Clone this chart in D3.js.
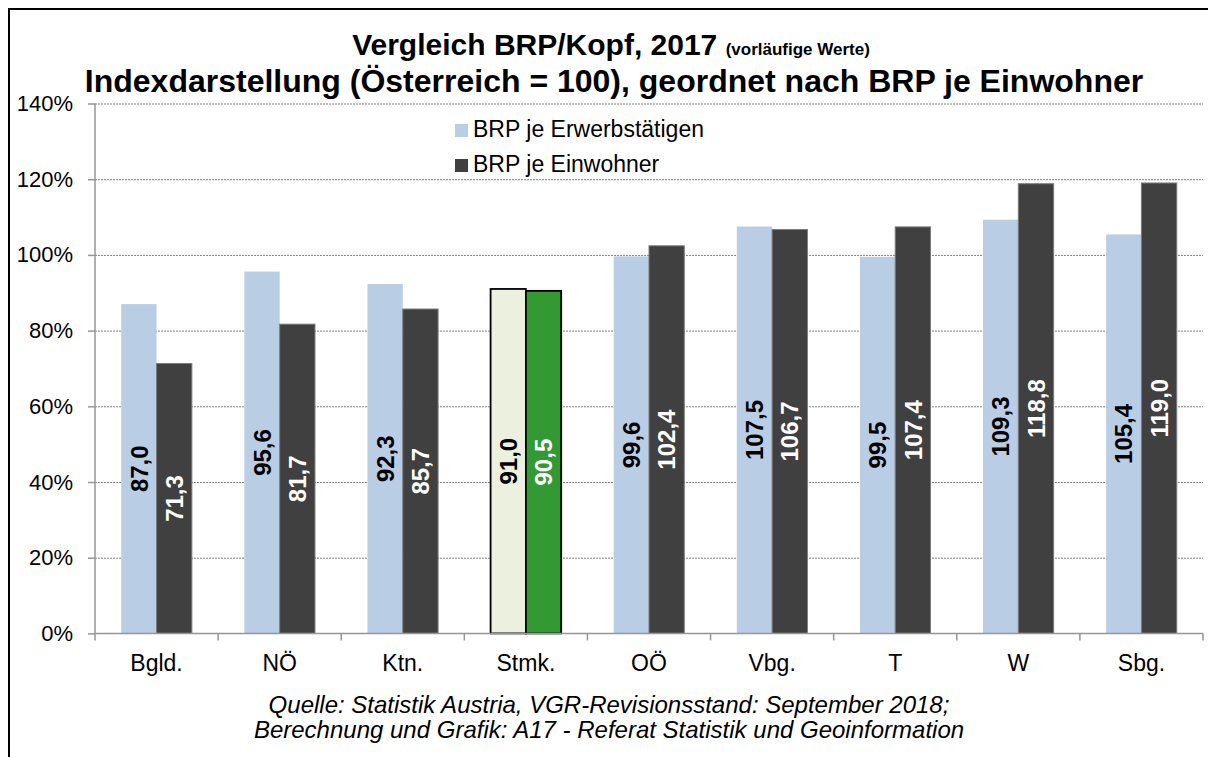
<!DOCTYPE html>
<html>
<head>
<meta charset="utf-8">
<script src="https://cdn.jsdelivr.net/npm/d3@7"></script>
<style>
	body { margin: 0; background: #fff; }
	svg { display: block; font-family: Arial, 'Liberation Sans', sans-serif; }
	.grid line { stroke: #7f7f7f; stroke-dasharray: 2,1; }
	.grid path { display: none; }
	.axis path, .axis line { stroke: #969696; stroke-width: 1.5; }
	.axis text { fill: #000; }
</style>
</head>
<body>
<div id="chart"></div>
<script>
let width = 1208
let height = 757

// Bundesländer, geordnet nach BRP je Einwohner
let regions = ['Bgld.', 'NÖ', 'Ktn.', 'Stmk.', 'OÖ', 'Vbg.', 'T', 'W', 'Sbg.']
let erwerbstaetige = [87.0, 95.6, 92.3, 91.0, 99.6, 107.5, 99.5, 109.3, 105.4]
let einwohner = [71.3, 81.7, 85.7, 90.5, 102.4, 106.7, 107.4, 118.8, 119.0]
let yTicks = [0, 20, 40, 60, 80, 100, 120, 140]
let seriesNames = ['BRP je Erwerbstätigen', 'BRP je Einwohner']
let highlight = 'Stmk.'

let plot = {
	left : 95,
	right : 1203,
	top : 103.5,
	bottom : 633.4,
}

let colors = {
	erw : '#b9cde5',
	einw : '#404040',
	erwHi : '#ebf1de',
	einwHi : '#339933',
}

let fmt = (v) => v.toFixed(1).replace('.', ',')

let data = regions.map((r, i) => {
	return { region : r, erw : erwerbstaetige[i], einw : einwohner[i] }
})

let xScale = d3.scaleBand()
	.domain(regions)
	.range([plot.left, plot.right])
	.padding(0)

let xInner = d3.scaleBand()
	.domain(['erw', 'einw'])
	.range([0, xScale.bandwidth()])
	.paddingInner(0)
	.paddingOuter(0.744)

let yScale = d3.scaleLinear()
	.domain([0, 140])
	.range([plot.bottom, plot.top])

let svg = d3.select('#chart').append('svg')
	.attr('width', width)
	.attr('height', height)

// outer frame (runs off the right and bottom edge)
svg.append('rect')
	.attr('x', 9)
	.attr('y', 9)
	.attr('width', 1400)
	.attr('height', 1000)
	.attr('fill', 'none')
	.attr('stroke', '#000')
	.attr('stroke-width', 2)

// titles
let title = svg.append('text')
	.attr('text-anchor', 'middle')
	.attr('x', 611)
	.attr('y', 55)
	.attr('font-weight', 'bold')
	.attr('font-size', 30)
title.append('tspan').text('Vergleich BRP/Kopf, 2017 ')
title.append('tspan').attr('font-size', 17).text('(vorläufige Werte)')

svg.append('text')
	.attr('text-anchor', 'middle')
	.attr('x', 614)
	.attr('y', 92)
	.attr('font-weight', 'bold')
	.attr('font-size', 32)
	.text('Indexdarstellung (Österreich = 100), geordnet nach BRP je Einwohner')

// gridlines
svg.append('g')
	.attr('class', 'grid')
	.attr('transform', `translate(${plot.left},0)`)
	.call(d3.axisLeft(yScale).tickValues(yTicks.filter((d) => d > 0)).tickSize(-(plot.right - plot.left)).tickFormat(''))

// bars
let groups = svg.append('g').selectAll('g')
	.data(data)
	.enter()
	.append('g')
	.attr('transform', (d) => `translate(${xScale(d.region)},0)`)

let keys = ['erw', 'einw']

keys.forEach((k) => {
	groups.append('rect')
		.attr('x', xInner(k))
		.attr('width', xInner.bandwidth())
		.attr('y', (d) => yScale(d[k]))
		.attr('height', (d) => yScale(0) - yScale(d[k]))
		.attr('fill', (d) => {
			if (d.region == highlight) {
				return k == 'erw' ? colors.erwHi : colors.einwHi
			}
			return colors[k]
		})
		.attr('stroke', (d) => {
			if (d.region == highlight) return '#000'
			return k == 'einw' ? '#7a7a7a' : 'none'
		})
		.attr('stroke-width', (d) => d.region == highlight ? 1.8 : 1)

	groups.append('text')
		.attr('transform', (d) => {
			let cx = xInner(k) + xInner.bandwidth() / 2
			let cy = (yScale(d[k]) + yScale(0)) / 2
			return `translate(${cx},${cy}) rotate(-90)`
		})
		.attr('text-anchor', 'middle')
		.attr('dy', '0.36em')
		.attr('font-weight', 'bold')
		.attr('font-size', 24)
		.attr('fill', k == 'erw' ? '#000' : '#fff')
		.text((d) => fmt(d[k]))
})

// y axis
svg.append('g')
	.attr('class', 'axis')
	.attr('transform', `translate(${plot.left},0)`)
	.call(d3.axisLeft(yScale).tickValues(yTicks).tickSize(7).tickPadding(15).tickFormat((d) => d + '%'))
	.call((g) => g.select('.domain').attr('d', `M0,${plot.top}V${plot.bottom}`))
	.selectAll('text')
	.attr('font-size', 22)
	.attr('font-family', 'Arial, Liberation Sans, sans-serif')

// x axis
let xAxisG = svg.append('g')
	.attr('class', 'axis')
	.attr('transform', `translate(0,${plot.bottom})`)
	.call(d3.axisBottom(xScale).tickSize(0).tickPadding(21))

xAxisG.select('.domain').attr('d', `M${plot.left},0H${plot.right}`)
xAxisG.selectAll('text')
	.attr('font-size', 23)
	.attr('font-family', 'Arial, Liberation Sans, sans-serif')

xAxisG.selectAll('.bound')
	.data(regions.concat(['end']))
	.enter()
	.append('line')
	.attr('class', 'bound')
	.attr('x1', (d) => d == 'end' ? plot.right : xScale(d))
	.attr('x2', (d) => d == 'end' ? plot.right : xScale(d))
	.attr('y1', 0)
	.attr('y2', 7)

// legend
let legend = svg.append('g')
	.attr('transform', 'translate(455,124)')

let legendItems = legend.selectAll('g')
	.data(seriesNames)
	.enter()
	.append('g')
	.attr('transform', (d, i) => `translate(0,${i * 35})`)

legendItems.append('rect')
	.attr('width', 13)
	.attr('height', 13)
	.attr('fill', (d, i) => i == 0 ? colors.erw : colors.einw)

legendItems.append('text')
	.attr('x', 18)
	.attr('y', 13)
	.attr('font-size', 23)
	.text((d) => d)

// source
let source = svg.append('text')
	.attr('text-anchor', 'middle')
	.attr('font-style', 'italic')
	.attr('font-size', 24)

source.append('tspan')
	.attr('x', 609)
	.attr('y', 713)
	.text('Quelle: Statistik Austria, VGR-Revisionsstand: September 2018;')

source.append('tspan')
	.attr('x', 609)
	.attr('y', 738)
	.text('Berechnung und Grafik: A17 - Referat Statistik und Geoinformation')
</script>
</body>
</html>
